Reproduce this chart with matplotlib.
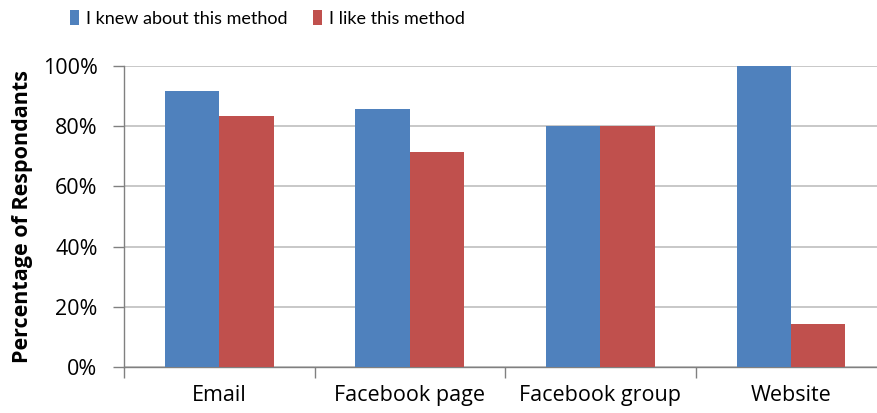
import matplotlib.pyplot as plt
import numpy as np
from matplotlib.ticker import FuncFormatter

plt.rcParams["font.family"] = ["Open Sans", "DejaVu Sans"]

categories = ["Email", "Facebook page", "Facebook group", "Website"]
knew = [91.7, 85.7, 80.0, 100.0]
like = [83.3, 71.4, 80.0, 14.3]
series_labels = ["I knew about this method", "I like this method"]
y_ticks = [0, 20, 40, 60, 80, 100]

BLUE = "#4F81BD"
RED = "#C0504D"
GRID = "#BFBFBF"

fig = plt.figure(figsize=(8.77, 4.13), dpi=100)
ax = fig.add_axes([0.1414, 0.1114, 0.869, 0.7288])

x = np.arange(len(categories)) + 0.5
w = 0.285
b1 = ax.bar(x - w / 2, knew, w, color=BLUE, label=series_labels[0], zorder=3)
b2 = ax.bar(x + w / 2, like, w, color=RED, label=series_labels[1], zorder=3)

ax.set_xlim(0, len(categories))
ax.set_ylim(0, 100)
ax.set_yticks(y_ticks)
ax.yaxis.set_major_formatter(FuncFormatter(lambda v, p: f"{v:.0f}%"))
ax.yaxis.grid(True, color=GRID, linewidth=1.2, zorder=0)

# category labels centred, tick marks on the boundaries
ax.set_xticks(x)
ax.set_xticklabels(categories, fontsize=15.5)
ax.set_xticks(np.arange(len(categories) + 1), minor=True)
ax.tick_params(axis="x", which="major", length=0, pad=13)
ax.tick_params(axis="x", which="minor", length=8, color="#808080", width=1)
ax.tick_params(axis="y", length=8, color="#808080", width=1, labelsize=15.5, pad=11)

for side in ["top", "right"]:
    ax.spines[side].set_visible(False)
for side in ["left", "bottom"]:
    ax.spines[side].set_color("#808080")
    ax.spines[side].set_linewidth(1)

ax.set_ylabel("Percentage of Respondants", fontsize=15.5, fontweight="bold", labelpad=7)

fig.legend(
    handles=[b1, b2],
    labels=series_labels,
    loc="upper center",
    bbox_to_anchor=(0.305, 1.015),
    ncol=2,
    frameon=False,
    prop={"family": ["Lato", "DejaVu Sans"], "size": 13},
    handlelength=0.5,
    handleheight=0.9,
    handletextpad=0.35,
    columnspacing=1.45,
)

fig.savefig("out.png", dpi=100)
